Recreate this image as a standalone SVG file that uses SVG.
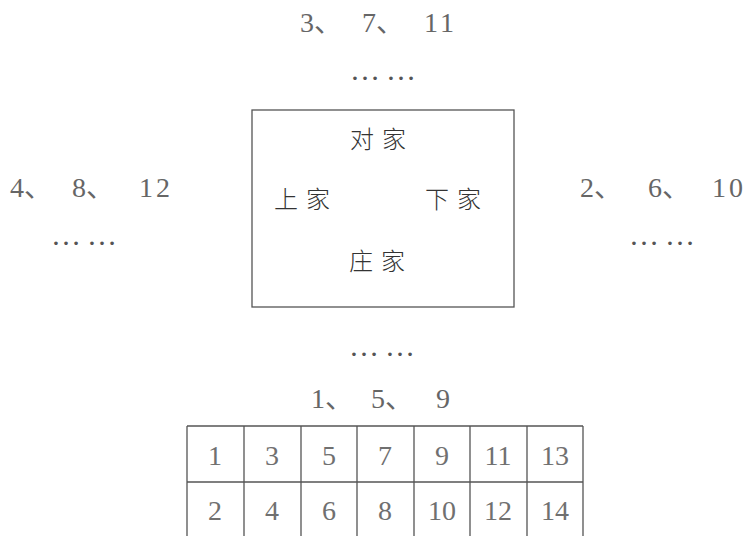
<svg xmlns="http://www.w3.org/2000/svg" width="748" height="536" viewBox="0 0 748 536">
<style>
.num{font-family:"Liberation Serif","Noto Sans CJK SC",serif;font-size:28px;fill:#666}
.dots{font-family:"Liberation Serif",serif;font-size:30px;fill:#555}
.cjk{font-family:"Noto Sans CJK SC",sans-serif;font-size:24px;font-weight:300;fill:#333;text-anchor:middle;letter-spacing:8px}
.cell{font-family:"Liberation Serif",serif;font-size:28px;fill:#707070;text-anchor:middle}
.ln{stroke:#555;stroke-width:1.3;fill:none}
</style>
<rect width="748" height="536" fill="#fff"/>
<g id="top-label">
<text class="num" y="32"><tspan x="300">3、</tspan><tspan x="362">7、</tspan><tspan x="424" letter-spacing="3">11</tspan></text>
<text class="dots" y="80"><tspan x="350">…</tspan><tspan x="386">…</tspan></text>
</g>
<g id="left-label">
<text class="num" y="197"><tspan x="10">4、</tspan><tspan x="72">8、</tspan><tspan x="139" letter-spacing="3">12</tspan></text>
<text class="dots" y="245"><tspan x="51">…</tspan><tspan x="87">…</tspan></text>
</g>
<g id="right-label">
<text class="num" y="197"><tspan x="580">2、</tspan><tspan x="648">6、</tspan><tspan x="712" letter-spacing="3">10</tspan></text>
<text class="dots" y="245"><tspan x="629">…</tspan><tspan x="665">…</tspan></text>
</g>
<g id="bottom-label">
<text class="dots" y="356"><tspan x="349">…</tspan><tspan x="385">…</tspan></text>
<text class="num" y="408"><tspan x="311">1、</tspan><tspan x="371">5、</tspan><tspan x="436">9</tspan></text>
</g>
<g id="table-box">
<rect class="ln" x="252" y="110" width="262" height="197"/>
<text class="cjk" x="382" y="148">对家</text>
<text class="cjk" x="306" y="208">上家</text>
<text class="cjk" x="457" y="208">下家</text>
<text class="cjk" x="381" y="270">庄家</text>
</g>
<g id="seat-table">
<path class="ln" d="M187,426H583M187,482H583M187,426V540M244,426V540M301,426V540M357,426V540M414,426V540M470,426V540M527,426V540M583,426V540"/>
<text class="cell" x="215" y="465">1</text>
<text class="cell" x="272" y="465">3</text>
<text class="cell" x="329" y="465">5</text>
<text class="cell" x="385" y="465">7</text>
<text class="cell" x="442" y="465">9</text>
<text class="cell" x="498" y="465">11</text>
<text class="cell" x="555" y="465">13</text>
<text class="cell" x="215" y="520">2</text>
<text class="cell" x="272" y="520">4</text>
<text class="cell" x="329" y="520">6</text>
<text class="cell" x="385" y="520">8</text>
<text class="cell" x="442" y="520">10</text>
<text class="cell" x="498" y="520">12</text>
<text class="cell" x="555" y="520">14</text>
</g>
</svg>
